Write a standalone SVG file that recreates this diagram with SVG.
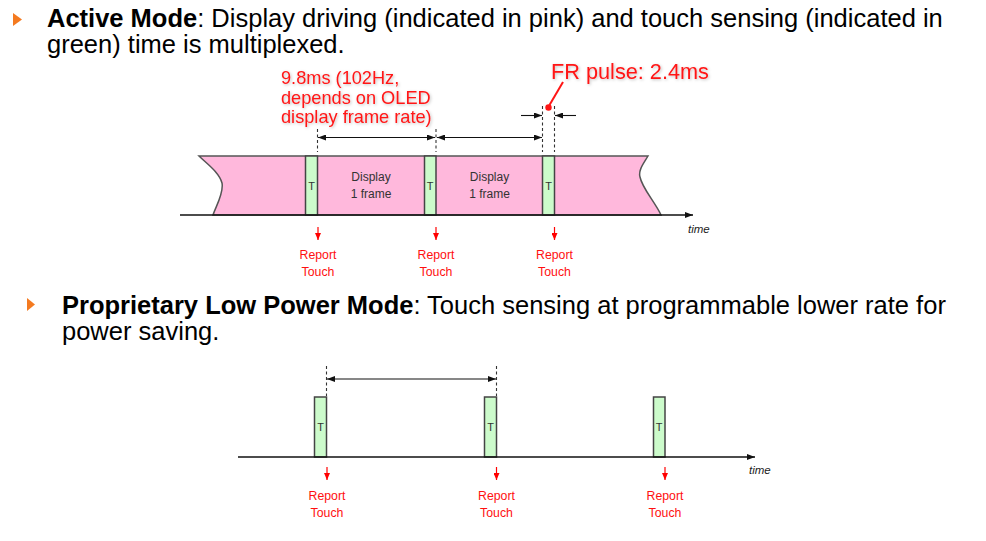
<svg xmlns="http://www.w3.org/2000/svg" width="986" height="541" viewBox="0 0 986 541">
  <defs>
    <marker id="ah" viewBox="0 0 8 6" refX="8" refY="3" markerWidth="8" markerHeight="6" markerUnits="userSpaceOnUse" orient="auto-start-reverse">
      <path d="M0,0 L8,3 L0,6 Z" fill="#111"/>
    </marker>
    <marker id="ahRed" viewBox="0 0 7 6" refX="7" refY="3" markerWidth="7" markerHeight="6" markerUnits="userSpaceOnUse" orient="auto">
      <path d="M0,0 L7,3 L0,6 Z" fill="#ff0000"/>
    </marker>
    <filter id="glow" x="-10%" y="-20%" width="120%" height="140%">
      <feDropShadow dx="1" dy="1" stdDeviation="1.5" flood-color="#000" flood-opacity="0.25"/>
    </filter>
  </defs>
  <style>
    .head { font-family: "Liberation Sans", Arial, sans-serif; font-size: 25.5px; fill: #000; }
    .b { font-weight: bold; }
    .bullet { fill: #f47a20; }
    .pink { fill: #ffb8dc; stroke: #555; stroke-width: 1.5; }
    .slot { fill: #ccfbcb; stroke: #444; stroke-width: 1.5; }
    .axis { stroke: #111; stroke-width: 1.6; fill: none; }
    .dash { stroke: #333; stroke-width: 1.1; stroke-dasharray: 3 2.5; fill: none; }
    .dim { stroke: #111; stroke-width: 1.1; fill: none; }
    .lbl { font-family: "Liberation Sans", Arial, sans-serif; font-size: 12px; fill: #333; text-anchor: middle; }
    .tl { font-family: "Liberation Sans", Arial, sans-serif; font-size: 11px; fill: #333; text-anchor: middle; }
    .time { font-family: "Liberation Sans", Arial, sans-serif; font-size: 11.5px; font-style: italic; fill: #222; }
    .rep { font-family: "Liberation Sans", Arial, sans-serif; font-size: 12.3px; fill: #ff1010; text-anchor: middle; }
    .rarr { stroke: #ff0000; stroke-width: 1.2; fill: none; }
    .note { font-family: "Liberation Sans", Arial, sans-serif; font-size: 18.2px; fill: #ff1515; }
  </style>

  <!-- Heading: active mode -->
  <g id="heading-active">
    <path class="bullet" d="M13,13 L22,19.5 L13,26 Z"/>
    <text class="head" x="47" y="27"><tspan class="b">Active Mode</tspan>: Display driving (indicated in pink) and touch sensing (indicated in</text>
    <text class="head" x="47" y="53">green) time is multiplexed.</text>
  </g>

  <!-- Active mode timeline -->
  <g id="active-band">
    <path class="pink" d="M199,156 L648,156 C644,163 638,170 640,177 C642,188 655,202 661,215 L213,215 C216,206 224,193 222,183 C219,172 206,163 199,156 Z"/>
  </g>
  <g id="active-display-1">
    <text class="lbl" x="371" y="181">Display</text>
    <text class="lbl" x="371" y="198">1 frame</text>
  </g>
  <g id="active-display-2">
    <text class="lbl" x="489.5" y="181">Display</text>
    <text class="lbl" x="489.5" y="198">1 frame</text>
  </g>
  <g id="active-touch-1">
    <rect class="slot" x="305.5" y="156" width="12" height="59"/>
    <text class="tl" x="311.5" y="190">T</text>
  </g>
  <g id="active-touch-2">
    <rect class="slot" x="424.5" y="156" width="11.5" height="59"/>
    <text class="tl" x="430.2" y="190">T</text>
  </g>
  <g id="active-touch-3">
    <rect class="slot" x="542.5" y="156" width="12" height="59"/>
    <text class="tl" x="548.5" y="190">T</text>
  </g>
  <g id="active-time-label">
    <text class="time" x="688" y="233">time</text>
  </g>

  <!-- Active mode annotations -->
  <g id="active-period-note" filter="url(#glow)">
    <text class="note" x="281" y="84">9.8ms (102Hz,</text>
    <text class="note" x="281" y="104">depends on OLED</text>
    <text class="note" x="281" y="123">display frame rate)</text>
  </g>
  <g id="fr-pulse-note" filter="url(#glow)">
    <text class="note" x="551" y="79" style="font-size:21.7px">FR pulse: 2.4ms</text>
  </g>
  <g id="active-report-1">
    <text class="rep" x="318" y="259">Report</text>
    <text class="rep" x="318" y="276">Touch</text>
  </g>
  <g id="active-report-2">
    <text class="rep" x="436" y="259">Report</text>
    <text class="rep" x="436" y="276">Touch</text>
  </g>
  <g id="active-report-3">
    <text class="rep" x="554.5" y="259">Report</text>
    <text class="rep" x="554.5" y="276">Touch</text>
  </g>

  <!-- Heading: low power mode -->
  <g id="heading-lowpower">
    <path class="bullet" d="M27,298 L35,304.5 L27,311 Z"/>
    <text class="head" x="62" y="314"><tspan class="b">Proprietary Low Power Mode</tspan>: Touch sensing at programmable lower rate for</text>
    <text class="head" x="62" y="340">power saving.</text>
  </g>

  <!-- Low power timeline -->
  <g id="lp-touch-1">
    <rect class="slot" x="314.5" y="397" width="12" height="60"/>
    <text class="tl" x="320.5" y="431">T</text>
  </g>
  <g id="lp-touch-2">
    <rect class="slot" x="484.5" y="397" width="12" height="60"/>
    <text class="tl" x="490.5" y="431">T</text>
  </g>
  <g id="lp-touch-3">
    <rect class="slot" x="653.5" y="397" width="11.5" height="60"/>
    <text class="tl" x="659.2" y="431">T</text>
  </g>
  <g id="lp-time-label">
    <text class="time" x="749" y="474">time</text>
  </g>
  <g id="lp-report-1">
    <text class="rep" x="327" y="500">Report</text>
    <text class="rep" x="327" y="517">Touch</text>
  </g>
  <g id="lp-report-2">
    <text class="rep" x="496.5" y="500">Report</text>
    <text class="rep" x="496.5" y="517">Touch</text>
  </g>
  <g id="lp-report-3">
    <text class="rep" x="665" y="500">Report</text>
    <text class="rep" x="665" y="517">Touch</text>
  </g>

  <!-- Connectors: axes, dimension lines, guides, report arrows -->
  <g id="connectors">
    <line class="axis" x1="180" y1="215" x2="693" y2="215" marker-end="url(#ah)"/>
    <line class="axis" x1="238" y1="457" x2="755" y2="457" marker-end="url(#ah)"/>

    <line class="dash" x1="317.5" y1="129" x2="317.5" y2="152"/>
    <line class="dash" x1="436" y1="129" x2="436" y2="152"/>
    <line class="dash" x1="542.5" y1="106" x2="542.5" y2="152"/>
    <line class="dash" x1="554.5" y1="106" x2="554.5" y2="152"/>
    <line class="dim" x1="318" y1="137.5" x2="435" y2="137.5" marker-start="url(#ah)" marker-end="url(#ah)"/>
    <line class="dim" x1="437" y1="137.5" x2="542" y2="137.5" marker-start="url(#ah)" marker-end="url(#ah)"/>
    <line class="dim" x1="521" y1="115.5" x2="542" y2="115.5" marker-end="url(#ah)"/>
    <line class="dim" x1="576" y1="115.5" x2="555" y2="115.5" marker-end="url(#ah)"/>

    <line x1="549.5" y1="105" x2="563" y2="82" stroke="#ff1515" stroke-width="2"/>
    <circle cx="548.5" cy="107.5" r="3.2" fill="#ff1515"/>

    <line class="dash" x1="326.5" y1="366" x2="326.5" y2="396"/>
    <line class="dash" x1="496.5" y1="366" x2="496.5" y2="396"/>
    <line class="dim" x1="327" y1="379" x2="496" y2="379" marker-start="url(#ah)" marker-end="url(#ah)"/>

    <line class="rarr" x1="318" y1="227" x2="318" y2="240" marker-end="url(#ahRed)"/>
    <line class="rarr" x1="436" y1="227" x2="436" y2="240" marker-end="url(#ahRed)"/>
    <line class="rarr" x1="554.5" y1="227" x2="554.5" y2="240" marker-end="url(#ahRed)"/>
    <line class="rarr" x1="327" y1="467" x2="327" y2="480" marker-end="url(#ahRed)"/>
    <line class="rarr" x1="496.5" y1="467" x2="496.5" y2="480" marker-end="url(#ahRed)"/>
    <line class="rarr" x1="665" y1="467" x2="665" y2="480" marker-end="url(#ahRed)"/>
  </g>
</svg>
